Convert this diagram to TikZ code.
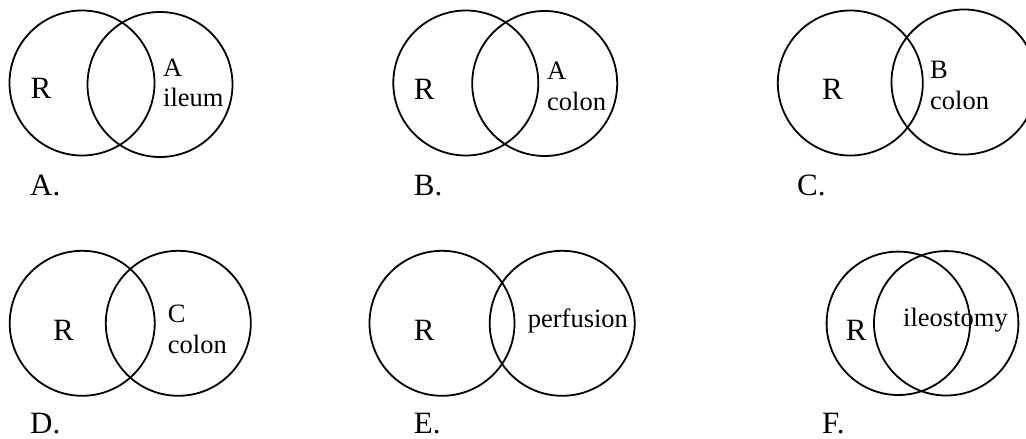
\documentclass[tikz,border=0pt]{standalone}
\usepackage{fontspec}
\setmainfont{Liberation Serif}
\begin{document}
\begin{tikzpicture}[x=1pt,y=-1pt,
  venn/.style={circle,draw=black,line width=1.8pt,minimum size=145pt,inner sep=0pt},
  big/.style={anchor=base west,inner sep=0pt,font=\fontsize{31}{36}\selectfont},
  small/.style={anchor=base west,inner sep=0pt,font=\fontsize{26.5}{31}\selectfont}]
\useasboundingbox (0,0) rectangle (1026,439);
% Panel A
\node[venn] (aL) at (82,83) {};
\node[venn] (aR) at (160,84.5) {};
\node[big] (aRt) at (30.5,98.3) {R};
\node[small] (aA) at (163,76) {A};
\node[small] (aI) at (163,106) {ileum};
\node[big] (aLab) at (30,195) {A.};
% Panel B
\node[venn] (bL) at (465.8,83) {};
\node[venn] (bR) at (544.7,83.5) {};
\node[big] (bRt) at (413.7,99) {R};
\node[small] (bA) at (547,79) {A};
\node[small] (bC) at (547,110) {colon};
\node[big] (bLab) at (413.7,195) {B.};
% Panel C
\node[venn] (cL) at (850.3,83) {};
\node[venn] (cR) at (964,82) {};
\node[big] (cRt) at (822,99) {R};
\node[small] (cB) at (930,78) {B};
\node[small] (cC) at (930,109) {colon};
\node[big] (cLab) at (797,195) {C.};
% Panel D
\node[venn] (dL) at (82.2,323.3) {};
\node[venn] (dR) at (178.3,323.3) {};
\node[big] (dRt) at (53,340) {R};
\node[small] (dC) at (167.7,322) {C};
\node[small] (dCo) at (167.7,353) {colon};
\node[big] (dLab) at (30,433) {D.};
% Panel E
\node[venn] (eL) at (442,323.3) {};
\node[venn] (eR) at (562.2,323.3) {};
\node[big] (eRt) at (413.7,340) {R};
\node[small] (eP) at (527.7,327.7) {perfusion};
\node[big] (eLab) at (413.7,433) {E.};
% Panel F
\node[venn,minimum size=143.4pt] (fL) at (898.3,323.3) {};
\node[venn,minimum size=144.4pt] (fR) at (946.2,323.3) {};
\node[big] (fRt) at (845.7,340) {R};
\node[small] (fI) at (903,326) {ileostomy};
\node[big] (fLab) at (822,433) {F.};
\end{tikzpicture}
\end{document}
